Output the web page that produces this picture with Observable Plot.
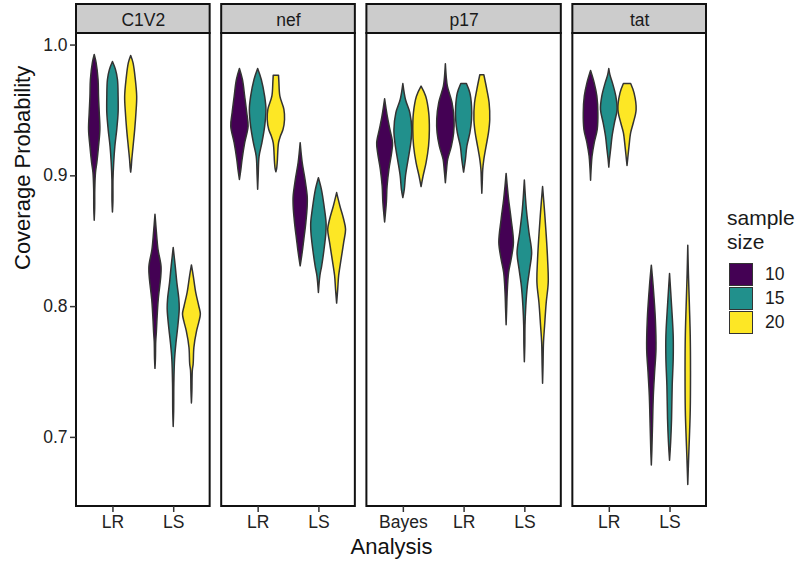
<!DOCTYPE html>
<html><head><meta charset="utf-8">
<script src="https://cdn.jsdelivr.net/npm/d3@7"></script>
<script src="https://cdn.jsdelivr.net/npm/@observablehq/plot@0.6"></script>
<style>
body{margin:0;background:#fff;}
#wrap{position:relative;width:803px;height:565px;font-family:"Liberation Sans",Arial,Helvetica,sans-serif;}
#legend{position:absolute;left:727px;top:206px;color:#1a1a1a;}
#legend .lt{font-size:21px;line-height:24px;margin-bottom:8px;}
#legend .row{display:flex;align-items:center;height:24px;}
#legend .sw{box-sizing:border-box;width:24px;height:23px;border:1.5px solid #333;margin-left:2px;}
#legend .lb{font-size:17.5px;margin-left:12px;}
</style></head><body><div id="wrap"></div>
<script>
const genes = ["C1V2", "nef", "p17", "tat"];
const analyses = [["LR", "LS"], ["LR", "LS"], ["Bayes", "LR", "LS"], ["LR", "LS"]];
const sampleSizes = ["10", "15", "20"];
const palette = ["#440154", "#21908C", "#FDE725"];
const yTicks = [0.7, 0.8, 0.9, 1.0];

// violin profiles: [coverage probability, relative density], one per sample size (10, 15, 20)
const C1V2_LR = [
  [[0.9924,0],[0.9863,0.2],[0.9733,0.42],[0.9603,0.47],[0.9481,0.55],[0.9351,0.62],[0.9221,0.47],[0.9099,0.29],[0.9023,0.14],[0.8893,0.06],[0.875,0.05],[0.8656,0]],
  [[0.987,0],[0.981,0.33],[0.9733,0.55],[0.9603,0.62],[0.948,0.62],[0.935,0.47],[0.922,0.26],[0.91,0.14],[0.897,0.06],[0.88,0.05],[0.872,0]],
  [[0.9916,0],[0.986,0.26],[0.9733,0.51],[0.9603,0.66],[0.948,0.58],[0.935,0.44],[0.922,0.26],[0.912,0.12],[0.906,0.06],[0.9025,0]]
];
const C1V2_LS = [
  [[0.8702,0],[0.857,0.15],[0.8435,0.33],[0.8308,0.66],[0.8232,0.64],[0.8053,0.36],[0.7926,0.24],[0.7801,0.15],[0.7725,0.08],[0.76,0.05],[0.7524,0]],
  [[0.8448,0],[0.8308,0.22],[0.818,0.4],[0.8053,0.62],[0.7977,0.66],[0.785,0.51],[0.7725,0.31],[0.7595,0.15],[0.74,0.07],[0.72,0.05],[0.708,0]],
  [[0.8315,0],[0.8232,0.2],[0.8105,0.47],[0.8003,0.8],[0.7939,0.98],[0.7876,0.8],[0.7812,0.57],[0.7685,0.27],[0.7557,0.19],[0.751,0.1],[0.735,0.05],[0.726,0]]
];
const nef_LR = [
  [[0.9817,0],[0.9733,0.33],[0.9603,0.58],[0.948,0.8],[0.9376,0.95],[0.925,0.58],[0.9122,0.29],[0.9046,0.16],[0.8969,0]],
  [[0.9817,0],[0.9733,0.4],[0.9603,0.77],[0.9504,0.91],[0.9376,0.77],[0.925,0.47],[0.9147,0.16],[0.9,0.06],[0.8893,0]],
  [[0.9766,0.29],[0.9715,0.33],[0.9605,0.44],[0.9504,0.88],[0.9427,0.95],[0.935,0.78],[0.93,0.5],[0.9249,0.29],[0.91,0.15],[0.905,0.08],[0.9028,0]]
];
const nef_LS = [
  [[0.925,0],[0.9099,0.22],[0.8969,0.53],[0.8842,0.77],[0.8766,0.77],[0.8639,0.62],[0.8511,0.4],[0.841,0.22],[0.8308,0]],
  [[0.8982,0],[0.8893,0.33],[0.8766,0.62],[0.8639,0.84],[0.8563,0.82],[0.8435,0.62],[0.8308,0.36],[0.8232,0.16],[0.8105,0]],
  [[0.8868,0],[0.8766,0.36],[0.8664,0.77],[0.8588,0.98],[0.8486,0.77],[0.8359,0.49],[0.8232,0.22],[0.813,0.12],[0.8023,0]]
];
const p17_Bayes = [
  [[0.9585,0],[0.9453,0.29],[0.9351,0.58],[0.9249,0.87],[0.9173,0.77],[0.9046,0.47],[0.8918,0.27],[0.8792,0.19],[0.8644,0]],
  [[0.9702,0],[0.958,0.29],[0.9478,0.77],[0.9351,0.98],[0.9249,0.87],[0.9122,0.58],[0.8995,0.29],[0.8893,0.16],[0.883,0]],
  [[0.9682,0],[0.9605,0.51],[0.9478,0.84],[0.9351,0.91],[0.9224,0.82],[0.9097,0.55],[0.8995,0.22],[0.8914,0]]
];
const p17_LR = [
  [[0.9853,0],[0.975,0.1],[0.9682,0.22],[0.9555,0.73],[0.9427,0.95],[0.9326,0.91],[0.9224,0.66],[0.9122,0.25],[0.9046,0.13],[0.8944,0]],
  [[0.9702,0.31],[0.963,0.69],[0.9529,0.87],[0.9427,0.87],[0.9326,0.69],[0.9224,0.36],[0.9122,0.2],[0.9025,0]],
  [[0.9769,0.22],[0.9656,0.55],[0.9555,0.8],[0.9427,0.87],[0.9326,0.73],[0.9224,0.47],[0.9122,0.22],[0.9046,0.1],[0.895,0.05],[0.8863,0]]
];
const p17_LS = [
  [[0.9015,0],[0.892,0.12],[0.8817,0.27],[0.8664,0.55],[0.8486,0.8],[0.8359,0.55],[0.8257,0.27],[0.8105,0.12],[0.798,0.06],[0.7857,0]],
  [[0.8964,0],[0.874,0.22],[0.8563,0.51],[0.841,0.8],[0.8282,0.58],[0.8155,0.33],[0.8002,0.16],[0.785,0.07],[0.77,0.05],[0.7575,0]],
  [[0.8914,0],[0.874,0.2],[0.8563,0.38],[0.8359,0.55],[0.818,0.62],[0.8028,0.4],[0.785,0.22],[0.7723,0.1],[0.755,0.05],[0.741,0]]
];
const tat_LR = [
  [[0.9802,0],[0.9707,0.4],[0.9605,0.69],[0.9478,0.8],[0.9351,0.73],[0.9249,0.4],[0.9147,0.16],[0.905,0.06],[0.8962,0]],
  [[0.9817,0],[0.977,0.12],[0.9707,0.4],[0.9605,0.77],[0.9504,0.91],[0.9402,0.62],[0.93,0.36],[0.9198,0.2],[0.912,0.07],[0.9063,0]],
  [[0.9702,0.4],[0.963,0.77],[0.9504,1.0],[0.9402,0.69],[0.9326,0.4],[0.9224,0.22],[0.913,0.08],[0.9076,0]]
];
const tat_LS = [
  [[0.8313,0],[0.8155,0.2],[0.7901,0.44],[0.7672,0.51],[0.7494,0.36],[0.7315,0.22],[0.7086,0.13],[0.69,0.06],[0.6786,0]],
  [[0.825,0],[0.8028,0.2],[0.7774,0.4],[0.7595,0.4],[0.739,0.29],[0.7137,0.22],[0.696,0.12],[0.6822,0]],
  [[0.8466,0],[0.825,0.07],[0.8,0.18],[0.7775,0.27],[0.75,0.3],[0.72,0.27],[0.7,0.18],[0.685,0.1],[0.6636,0]]
];
const profiles = [[C1V2_LR, C1V2_LS], [nef_LR, nef_LS], [p17_Bayes, p17_LR, p17_LS], [tat_LR, tat_LS]];

// layout in discrete "slot" units (ggplot: expansion 0.6, dodge width 0.9)
const gapU = 0.19;
const panels = [];
let start = 0;
genes.forEach((g, gi) => {
  const w = analyses[gi].length - 1 + 1.2;
  panels.push({gene: g, x1: start, x2: start + w, cx: start + w / 2, start});
  start += w + gapU;
});
const total = start - gapU;

const rows = [];
const tickPos = [], tickLab = new Map();
profiles.forEach((gp, gi) => {
  gp.forEach((ap, ai) => {
    const pos = panels[gi].start + 0.6 + ai;
    tickPos.push(pos); tickLab.set(pos, analyses[gi][ai]);
    ap.forEach((prof, si) => {
      const c = pos + (si - 1) * 0.3;
      prof.forEach(([v, d]) => rows.push({vid: `${gi}-${ai}-${si}`, size: sampleSizes[si], y: v, x1: c - d * 0.15, x2: c + d * 0.15}));
    });
  });
});

const allY = rows.map(r => r.y);
const lo = d3.min(allY), hi = d3.max(allY), pad = (hi - lo) * 0.05;
const ymin = lo - pad, ymax = hi + pad;

const chart = Plot.plot({
  width: 803, height: 565,
  marginLeft: 76, marginRight: 97, marginTop: 33, marginBottom: 59,
  style: {fontFamily: '"Liberation Sans", Arial, Helvetica, sans-serif', fontSize: "17.5px", color: "#222", background: "white"},
  x: {type: "linear", domain: [0, total], axis: null},
  y: {domain: [ymin, ymax], axis: null},
  color: {domain: sampleSizes, range: palette},
  marks: [
    Plot.areaX(rows, {y: "y", x1: "x1", x2: "x2", z: "vid", fill: "size", stroke: "#333", strokeWidth: 1.5, curve: "catmull-rom"}),
    Plot.rect(panels, {x1: "x1", x2: "x2", y1: ymin, y2: ymax, fill: "none", stroke: "#111", strokeWidth: 2}),
    Plot.rect(panels, {x1: "x1", x2: "x2", y1: ymax, y2: ymax, insetTop: -29, fill: "#cccccc", stroke: "#111", strokeWidth: 2}),
    Plot.text(panels, {x: "cx", y: ymax, dy: -13, text: "gene", fill: "#1a1a1a"}),
    Plot.axisY({ticks: yTicks, tickFormat: d3.format(".1f"), tickSize: 6, tickPadding: 3, label: null, stroke: "#333", strokeWidth: 1.5}),
    Plot.axisX({ticks: tickPos, tickFormat: (d) => tickLab.get(d), tickSize: 6, tickPadding: 3, label: null, stroke: "#333", strokeWidth: 1.5}),
    Plot.text(["Analysis"], {frameAnchor: "bottom", dy: 47, fontSize: 22, fill: "#111"}),
    Plot.text(["Coverage Probability"], {frameAnchor: "left", dx: -54, rotate: -90, fontSize: 22, fill: "#111"})
  ]
});
const wrap = document.getElementById("wrap");
wrap.appendChild(chart);

const leg = document.createElement("div");
leg.id = "legend";
leg.innerHTML = `<div class="lt">sample<br>size</div>` +
  sampleSizes.map((s, i) => `<div class="row"><span class="sw" style="background:${palette[i]}"></span><span class="lb">${s}</span></div>`).join("");
wrap.appendChild(leg);
</script></body></html>
